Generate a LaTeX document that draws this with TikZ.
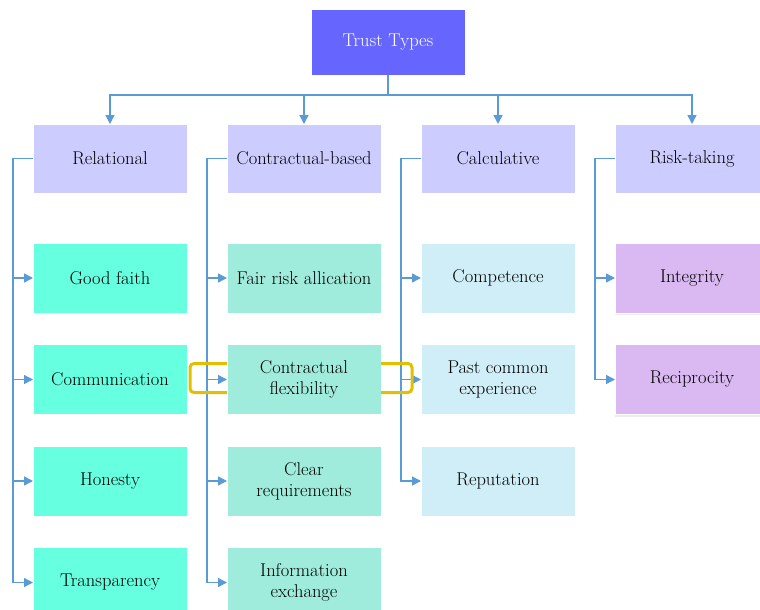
\documentclass[tikz,border=0pt]{standalone}
\usepackage{tikz}
\usetikzlibrary{arrows.meta, positioning, shadows}
\usepackage{xcolor}
\definecolor{rootblue}{RGB}{102,102,255}
\definecolor{catlav}{RGB}{204,204,255}
\definecolor{relgreen}{RGB}{102,255,224}
\definecolor{congreen}{RGB}{160,236,220}
\definecolor{calblue}{RGB}{208,238,248}
\definecolor{riskpurple}{RGB}{218,184,242}
\definecolor{linkblue}{RGB}{91,155,213}
\definecolor{bracketyellow}{RGB}{226,192,0}

\begin{document}
\begin{tikzpicture}[
x=1pt, y=1pt,
every node/.style={font=\fontsize{18.5}{21}\selectfont, outer sep=0pt},
basebox/.style={rectangle, draw=white, thin, minimum width=154pt, align=center, text=black},
rootbox/.style={basebox, fill=rootblue, minimum height=66pt, text=white},
catbox/.style={basebox, fill=catlav, minimum height=69pt},
relbox/.style={basebox, fill=relgreen, minimum height=70pt},
conbox/.style={basebox, fill=congreen, minimum height=70pt},
calbox/.style={basebox, fill=calblue, minimum height=70pt},
riskbox/.style={basebox, fill=riskpurple, minimum height=70pt, drop shadow={shadow xshift=0pt, shadow yshift=-2pt, opacity=0.15}},
link/.style={draw=linkblue, line width=1.4pt, -{Triangle[length=9pt, width=9pt]}},
bracket/.style={draw=bracketyellow, line width=3pt, rounded corners=4pt},
]
\clip (0,0) rectangle (760,-610);
%Nodes
\node[rootbox] (TT) at (388,-42) {Trust Types};
\node[catbox] (Rel) at (110,-158.5) {Relational};
\node[catbox] (Con) [right=40pt of Rel] {Contractual-based};
\node[catbox] (Cal) [right=40pt of Con] {Calculative};
\node[catbox] (Risk) [right=40pt of Cal] {Risk-taking};

\node[relbox] (R1) [below=50pt of Rel] {Good faith};
\node[relbox] (R2) [below=31.5pt of R1] {Communication};
\node[relbox] (R3) [below=31.5pt of R2] {Honesty};
\node[relbox] (R4) [below=31.5pt of R3] {Transparency};

\node[conbox] (C1) [below=50pt of Con] {Fair risk allication};
\node[conbox] (C2) [below=31.5pt of C1] {Contractual\\flexibility};
\node[conbox] (C3) [below=31.5pt of C2] {Clear\\requirements};
\node[conbox] (C4) [below=31.5pt of C3] {Information\\exchange};

\node[calbox] (K1) [below=50pt of Cal] {Competence};
\node[calbox] (K2) [below=31.5pt of K1] {Past common\\experience};
\node[calbox] (K3) [below=31.5pt of K2] {Reputation};

\node[riskbox] (S1) [below=50pt of Risk] {Integrity};
\node[riskbox] (S2) [below=31.5pt of S1] {Reciprocity};

%Links
\foreach \cat in {Rel, Con, Cal, Risk}
  \draw[link] (TT.south) -- ++(0,-20) -| (\cat.north);
\foreach \kid in {R1, R2, R3, R4}
  \draw[link] (Rel.west) -- ++(-20,0) |- (\kid.west);
\foreach \kid in {C1, C2, C3, C4}
  \draw[link] (Con.west) -- ++(-20,0) |- (\kid.west);
\foreach \kid in {K1, K2, K3}
  \draw[link] (Cal.west) -- ++(-20,0) |- (\kid.west);
\foreach \kid in {S1, S2}
  \draw[link] (Risk.west) -- ++(-20,0) |- (\kid.west);

%Brackets
\draw[bracket] ([yshift=16pt]C2.west) -- ++(-37,0) -- ++(0,-29) -- ++(37,0);
\draw[bracket] ([yshift=16pt]C2.east) -- ++(31,0) -- ++(0,-29) -- ++(-31,0);
\end{tikzpicture}
\end{document}
